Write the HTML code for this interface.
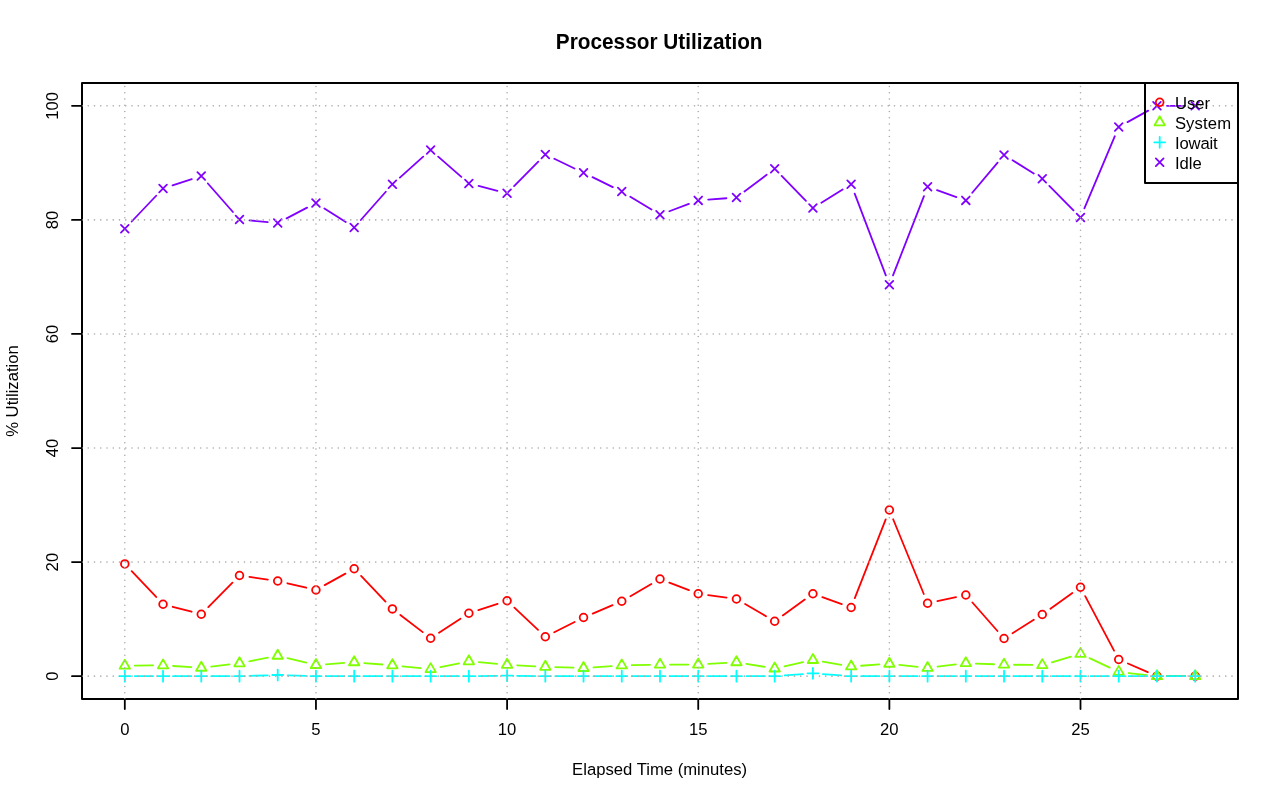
<!DOCTYPE html>
<html lang="en">
<head>
<meta charset="utf-8">
<title>Processor Utilization</title>
<style>
html,body{margin:0;padding:0;background:#fff;}
body{width:1280px;height:801px;overflow:hidden;}
svg{display:block;}
text{font-family:"Liberation Sans",sans-serif;fill:#000;}
</style>
</head>
<body>
<svg width="1280" height="801" viewBox="0 0 1280 801">
<rect x="0" y="0" width="1280" height="801" fill="#fff"/>
<g fill="none" stroke="#FF0000" stroke-width="1.8" stroke-linecap="round" stroke-linejoin="round">
<path d="M131.7 571.21L156.16 596.99M172.72 606.78L191.6 611.72M208.29 607.13L232.47 582.62M249.4 576.92L267.83 579.58M287.46 583.29L306.22 587.71M324.69 585.14L345.44 573.61M361.08 575.99L385.51 601.66M400.34 614.99L422.7 632.16M439 632.78L460.49 618.72M478.37 610.14L497.59 603.86M514.37 607.61L538.04 629.89M554.25 632.25L574.61 622M592.75 613.59L612.57 605.16M630.42 596.22L651.36 584.03M669.33 582.6L688.9 590.15M708.13 595.11L726.55 597.64M745.1 604.03L766.04 616.22M782.8 615.41L804.79 599.59M822.32 597.13L841.73 604.12M854.79 598.19L885.71 519.31M893.16 519.25L923.8 594M937.37 601.14L956.05 597.11M972.42 602.51L997.45 630.99M1012.52 633.18L1033.81 619.82M1050.42 608.7L1072.36 593.05M1085.18 596.09L1114.05 650.66M1127.89 663.5L1147.79 672.19M1166.96 676.19L1185.19 676.19"/>
<circle cx="124.81" cy="563.95" r="3.85"/>
<circle cx="163.04" cy="604.25" r="3.85"/>
<circle cx="201.27" cy="614.25" r="3.85"/>
<circle cx="239.5" cy="575.5" r="3.85"/>
<circle cx="277.72" cy="581" r="3.85"/>
<circle cx="315.95" cy="590" r="3.85"/>
<circle cx="354.18" cy="568.75" r="3.85"/>
<circle cx="392.41" cy="608.9" r="3.85"/>
<circle cx="430.63" cy="638.25" r="3.85"/>
<circle cx="468.86" cy="613.25" r="3.85"/>
<circle cx="507.09" cy="600.75" r="3.85"/>
<circle cx="545.32" cy="636.75" r="3.85"/>
<circle cx="583.54" cy="617.5" r="3.85"/>
<circle cx="621.77" cy="601.25" r="3.85"/>
<circle cx="660" cy="579" r="3.85"/>
<circle cx="698.23" cy="593.75" r="3.85"/>
<circle cx="736.46" cy="599" r="3.85"/>
<circle cx="774.68" cy="621.25" r="3.85"/>
<circle cx="812.91" cy="593.75" r="3.85"/>
<circle cx="851.14" cy="607.5" r="3.85"/>
<circle cx="889.37" cy="510" r="3.85"/>
<circle cx="927.59" cy="603.25" r="3.85"/>
<circle cx="965.82" cy="595" r="3.85"/>
<circle cx="1004.05" cy="638.5" r="3.85"/>
<circle cx="1042.28" cy="614.5" r="3.85"/>
<circle cx="1080.5" cy="587.25" r="3.85"/>
<circle cx="1118.73" cy="659.5" r="3.85"/>
<circle cx="1156.96" cy="676.19" r="3.85"/>
<circle cx="1195.19" cy="676.19" r="3.85"/>
</g>
<g fill="none" stroke="#80FF00" stroke-width="1.8" stroke-linecap="round" stroke-linejoin="round">
<path d="M134.81 665.61L153.04 665.44M173.02 665.98L191.29 667.12M211.2 666.59L229.56 664.46M249.31 661.36L267.91 657.69M287.44 658.1L306.23 662.65M325.93 664.28L344.21 662.97M364.15 663.05L382.44 664.5M402.36 666.29L420.68 668.11M440.43 667.1L459.06 663.3M478.82 662.21L497.13 663.89M517.08 665.32L535.33 666.28M555.31 667.11L573.55 667.69M593.52 667.32L611.8 666.08M631.77 665.19L650 664.81M670 664.59L688.23 664.56M708.21 663.95L726.47 662.85M746.32 663.86L764.81 666.89M784.44 666.33L803.15 662.17M822.77 661.66L841.28 664.79M861.11 665.75L879.39 664.45M899.31 664.84L917.65 666.86M937.52 666.72L955.9 664.43M975.81 663.57L994.05 664.23M1014.05 664.73L1032.28 664.97M1051.87 662.29L1070.91 656.71M1089.55 658.16L1109.68 667.64M1128.67 673.02L1147.02 675.07M1166.96 676.19L1185.19 676.19"/>
<path d="M124.81 659.71L130 668.69L119.63 668.69Z"/>
<path d="M163.04 659.36L168.23 668.34L157.86 668.34Z"/>
<path d="M201.27 661.76L206.45 670.74L196.08 670.74Z"/>
<path d="M239.5 657.31L244.68 666.29L234.31 666.29Z"/>
<path d="M277.72 649.76L282.91 658.74L272.54 658.74Z"/>
<path d="M315.95 659.01L321.14 667.99L310.77 667.99Z"/>
<path d="M354.18 656.26L359.36 665.24L348.99 665.24Z"/>
<path d="M392.41 659.31L397.59 668.29L387.22 668.29Z"/>
<path d="M430.63 663.11L435.82 672.09L425.45 672.09Z"/>
<path d="M468.86 655.31L474.05 664.29L463.68 664.29Z"/>
<path d="M507.09 658.81L512.28 667.79L501.9 667.79Z"/>
<path d="M545.32 660.81L550.5 669.79L540.13 669.79Z"/>
<path d="M583.54 662.01L588.73 670.99L578.36 670.99Z"/>
<path d="M621.77 659.41L626.96 668.39L616.59 668.39Z"/>
<path d="M660 658.61L665.19 667.59L654.81 667.59Z"/>
<path d="M698.23 658.56L703.41 667.54L693.04 667.54Z"/>
<path d="M736.46 656.26L741.64 665.24L731.27 665.24Z"/>
<path d="M774.68 662.51L779.87 671.49L769.5 671.49Z"/>
<path d="M812.91 654.01L818.1 662.99L807.72 662.99Z"/>
<path d="M851.14 660.46L856.32 669.44L845.95 669.44Z"/>
<path d="M889.37 657.76L894.55 666.74L884.18 666.74Z"/>
<path d="M927.59 661.96L932.78 670.94L922.41 670.94Z"/>
<path d="M965.82 657.21L971.01 666.19L960.64 666.19Z"/>
<path d="M1004.05 658.61L1009.23 667.59L998.86 667.59Z"/>
<path d="M1042.28 659.11L1047.46 668.09L1037.09 668.09Z"/>
<path d="M1080.5 647.91L1085.69 656.89L1075.32 656.89Z"/>
<path d="M1118.73 665.91L1123.92 674.89L1113.55 674.89Z"/>
<path d="M1156.96 670.2L1162.14 679.18L1151.77 679.18Z"/>
<path d="M1195.19 670.2L1200.37 679.18L1190 679.18Z"/>
</g>
<g fill="none" stroke="#00FFFF" stroke-width="1.8" stroke-linecap="round" stroke-linejoin="round">
<path d="M134.81 676.19L153.04 676.19M173.04 676.19L191.27 676.19M211.27 676.19L229.5 676.19M249.49 675.88L267.73 675.31M287.72 675.31L305.96 675.88M325.95 676.19L344.18 676.19M364.18 676.19L382.41 676.19M402.41 676.19L420.63 676.19M440.63 676.19L458.86 676.19M478.86 676.06L497.09 675.83M517.09 675.83L535.32 676.06M555.32 676.19L573.54 676.19M593.54 676.19L611.77 676.19M631.77 676.19L650 676.19M670 676.19L688.23 676.19M708.23 676.19L726.46 676.19M746.46 676.19L764.68 676.19M784.66 675.45L802.94 674.09M822.88 674.09L841.17 675.45M861.14 676.19L879.37 676.19M899.37 676.19L917.59 676.19M937.59 676.19L955.82 676.19M975.82 676.19L994.05 676.19M1014.05 676.19L1032.28 676.19M1052.28 676.19L1070.5 676.19M1090.5 676.19L1108.73 676.19M1128.73 676.19L1146.96 676.19M1166.96 676.19L1185.19 676.19"/>
<path d="M119.37 676.19H130.26M124.81 670.75V681.63"/>
<path d="M157.6 676.19H168.49M163.04 670.75V681.63"/>
<path d="M195.83 676.19H206.71M201.27 670.75V681.63"/>
<path d="M234.05 676.19H244.94M239.5 670.75V681.63"/>
<path d="M272.28 675H283.17M277.72 669.56V680.44"/>
<path d="M310.51 676.19H321.4M315.95 670.75V681.63"/>
<path d="M348.74 676.19H359.62M354.18 670.75V681.63"/>
<path d="M386.96 676.19H397.85M392.41 670.75V681.63"/>
<path d="M425.19 676.19H436.08M430.63 670.75V681.63"/>
<path d="M463.42 676.19H474.31M468.86 670.75V681.63"/>
<path d="M501.65 675.7H512.53M507.09 670.26V681.14"/>
<path d="M539.87 676.19H550.76M545.32 670.75V681.63"/>
<path d="M578.1 676.19H588.99M583.54 670.75V681.63"/>
<path d="M616.33 676.19H627.22M621.77 670.75V681.63"/>
<path d="M654.56 676.19H665.44M660 670.75V681.63"/>
<path d="M692.78 676.19H703.67M698.23 670.75V681.63"/>
<path d="M731.01 676.19H741.9M736.46 670.75V681.63"/>
<path d="M769.24 676.19H780.13M774.68 670.75V681.63"/>
<path d="M807.47 673.35H818.35M812.91 667.91V678.79"/>
<path d="M845.69 676.19H856.58M851.14 670.75V681.63"/>
<path d="M883.92 676.19H894.81M889.37 670.75V681.63"/>
<path d="M922.15 676.19H933.04M927.59 670.75V681.63"/>
<path d="M960.38 676.19H971.26M965.82 670.75V681.63"/>
<path d="M998.6 676.19H1009.49M1004.05 670.75V681.63"/>
<path d="M1036.83 676.19H1047.72M1042.28 670.75V681.63"/>
<path d="M1075.06 676.19H1085.95M1080.5 670.75V681.63"/>
<path d="M1113.29 676.19H1124.17M1118.73 670.75V681.63"/>
<path d="M1151.51 676.19H1162.4M1156.96 670.75V681.63"/>
<path d="M1189.74 676.19H1200.63M1195.19 670.75V681.63"/>
</g>
<g fill="none" stroke="#8000FF" stroke-width="1.8" stroke-linecap="round" stroke-linejoin="round">
<path d="M131.7 221.5L156.16 195.75M172.55 185.39L191.77 179.11M207.87 183.51L232.9 211.99M249.46 220.41L267.77 222.09M286.59 218.36L307.09 207.64M324.37 208.4L345.76 222.1M360.8 220.01L385.78 191.74M399.86 177.58L423.19 156.67M438.16 156.59L461.34 176.91M478.55 185.97L497.4 190.78M514.11 186.13L538.29 161.62M554.34 158.81L574.52 168.44M592.52 177.15L612.79 187.1M630.32 196.7L651.46 209.55M669.36 211.24L688.87 203.91M708.2 199.64L726.48 198.26M744.45 191.49L766.69 174.76M781.66 175.91L805.93 200.84M821.4 202.72L842.64 189.53M854.69 193.6L885.81 275.4M893 275.43L923.96 196.07M937.01 190.11L956.4 197.04M972.26 192.75L997.61 162.65M1012.54 160.28L1033.78 173.47M1049.3 185.87L1073.48 210.38M1084.39 208.29L1114.84 136.21M1127.48 122.15L1148.21 110.66M1166.96 105.81L1185.19 105.81"/>
<path d="M120.96 224.9L128.66 232.6M120.96 232.6L128.66 224.9"/>
<path d="M159.19 184.65L166.89 192.35M159.19 192.35L166.89 184.65"/>
<path d="M197.42 172.15L205.12 179.85M197.42 179.85L205.12 172.15"/>
<path d="M235.65 215.65L243.35 223.35M235.65 223.35L243.35 215.65"/>
<path d="M273.87 219.15L281.57 226.85M273.87 226.85L281.57 219.15"/>
<path d="M312.1 199.15L319.8 206.85M312.1 206.85L319.8 199.15"/>
<path d="M350.33 223.65L358.03 231.35M350.33 231.35L358.03 223.65"/>
<path d="M388.56 180.4L396.26 188.1M388.56 188.1L396.26 180.4"/>
<path d="M426.78 146.15L434.48 153.85M426.78 153.85L434.48 146.15"/>
<path d="M465.01 179.65L472.71 187.35M465.01 187.35L472.71 179.65"/>
<path d="M503.24 189.4L510.94 197.1M503.24 197.1L510.94 189.4"/>
<path d="M541.47 150.65L549.17 158.35M541.47 158.35L549.17 150.65"/>
<path d="M579.69 168.9L587.39 176.6M579.69 176.6L587.39 168.9"/>
<path d="M617.92 187.65L625.62 195.35M617.92 195.35L625.62 187.65"/>
<path d="M656.15 210.9L663.85 218.6M656.15 218.6L663.85 210.9"/>
<path d="M694.38 196.55L702.08 204.25M694.38 204.25L702.08 196.55"/>
<path d="M732.61 193.65L740.31 201.35M732.61 201.35L740.31 193.65"/>
<path d="M770.83 164.9L778.53 172.6M770.83 172.6L778.53 164.9"/>
<path d="M809.06 204.15L816.76 211.85M809.06 211.85L816.76 204.15"/>
<path d="M847.29 180.4L854.99 188.1M847.29 188.1L854.99 180.4"/>
<path d="M885.52 280.9L893.22 288.6M885.52 288.6L893.22 280.9"/>
<path d="M923.74 182.9L931.44 190.6M923.74 190.6L931.44 182.9"/>
<path d="M961.97 196.55L969.67 204.25M961.97 204.25L969.67 196.55"/>
<path d="M1000.2 151.15L1007.9 158.85M1000.2 158.85L1007.9 151.15"/>
<path d="M1038.43 174.9L1046.13 182.6M1038.43 182.6L1046.13 174.9"/>
<path d="M1076.65 213.65L1084.35 221.35M1076.65 221.35L1084.35 213.65"/>
<path d="M1114.88 123.15L1122.58 130.85M1114.88 130.85L1122.58 123.15"/>
<path d="M1153.11 101.96L1160.81 109.66M1153.11 109.66L1160.81 101.96"/>
<path d="M1191.34 101.96L1199.04 109.66M1191.34 109.66L1199.04 101.96"/>
</g>
<g fill="none" stroke="#000" stroke-width="1.8" stroke-linecap="round" stroke-linejoin="round">
<path d="M124.81 699H1080.5"/>
<path d="M124.81 699V709"/>
<path d="M315.95 699V709"/>
<path d="M507.09 699V709"/>
<path d="M698.23 699V709"/>
<path d="M889.37 699V709"/>
<path d="M1080.5 699V709"/>
<path d="M82 676.19V105.81"/>
<path d="M82 676.19H72"/>
<path d="M82 562.11H72"/>
<path d="M82 448.04H72"/>
<path d="M82 333.96H72"/>
<path d="M82 219.89H72"/>
<path d="M82 105.81H72"/>
<rect x="82" y="83" width="1156" height="616" stroke-width="2"/>
</g>
<text x="124.81" y="735" font-size="16.67" text-anchor="middle">0</text>
<text x="315.95" y="735" font-size="16.67" text-anchor="middle">5</text>
<text x="507.09" y="735" font-size="16.67" text-anchor="middle">10</text>
<text x="698.23" y="735" font-size="16.67" text-anchor="middle">15</text>
<text x="889.37" y="735" font-size="16.67" text-anchor="middle">20</text>
<text x="1080.5" y="735" font-size="16.67" text-anchor="middle">25</text>
<text transform="translate(58.4 676.19) rotate(-90)" font-size="16.67" text-anchor="middle">0</text>
<text transform="translate(58.4 562.11) rotate(-90)" font-size="16.67" text-anchor="middle">20</text>
<text transform="translate(58.4 448.04) rotate(-90)" font-size="16.67" text-anchor="middle">40</text>
<text transform="translate(58.4 333.96) rotate(-90)" font-size="16.67" text-anchor="middle">60</text>
<text transform="translate(58.4 219.89) rotate(-90)" font-size="16.67" text-anchor="middle">80</text>
<text transform="translate(58.4 105.81) rotate(-90)" font-size="16.67" text-anchor="middle">100</text>
<text transform="translate(659.2 48.9) scale(1.004 1.025)" font-size="20.7" font-weight="bold" text-anchor="middle">Processor Utilization</text>
<text x="659.6" y="775" font-size="16.67" text-anchor="middle">Elapsed Time (minutes)</text>
<text transform="translate(18.3 391) rotate(-90)" font-size="16.67" text-anchor="middle">% Utilization</text>
<clipPath id="plotclip"><rect x="82" y="83" width="1156" height="616"/></clipPath>
<g clip-path="url(#plotclip)" fill="none" stroke="#ADADAD" stroke-width="1.65" stroke-linecap="round" stroke-dasharray="0.01 6.24">
<path d="M124.81 699V83"/>
<path d="M315.95 699V83"/>
<path d="M507.09 699V83"/>
<path d="M698.23 699V83"/>
<path d="M889.37 699V83"/>
<path d="M1080.5 699V83"/>
<path d="M82 676.19H1238"/>
<path d="M82 562.11H1238"/>
<path d="M82 448.04H1238"/>
<path d="M82 333.96H1238"/>
<path d="M82 219.89H1238"/>
<path d="M82 105.81H1238"/>
</g>
<rect x="1145" y="83" width="93" height="100" fill="none" stroke="#000" stroke-width="2" stroke-linejoin="round"/>
<g fill="none" stroke="#FF0000" stroke-width="1.8" stroke-linecap="round" stroke-linejoin="round"><circle cx="1159.7" cy="102.3" r="3.85"/></g>
<text x="1174.9" y="109" font-size="16.67">User</text>
<g fill="none" stroke="#80FF00" stroke-width="1.8" stroke-linecap="round" stroke-linejoin="round"><path d="M1159.7 116.31L1164.89 125.29L1154.51 125.29Z"/></g>
<text x="1174.9" y="129" font-size="16.67" letter-spacing="0.12">System</text>
<g fill="none" stroke="#00FFFF" stroke-width="1.8" stroke-linecap="round" stroke-linejoin="round"><path d="M1154.26 142.3H1165.14M1159.7 136.86V147.74"/></g>
<text x="1174.9" y="149" font-size="16.67" letter-spacing="-0.14">Iowait</text>
<g fill="none" stroke="#8000FF" stroke-width="1.8" stroke-linecap="round" stroke-linejoin="round"><path d="M1155.85 158.45L1163.55 166.15M1155.85 166.15L1163.55 158.45"/></g>
<text x="1174.9" y="169" font-size="16.67">Idle</text>
</svg>
</body>
</html>
